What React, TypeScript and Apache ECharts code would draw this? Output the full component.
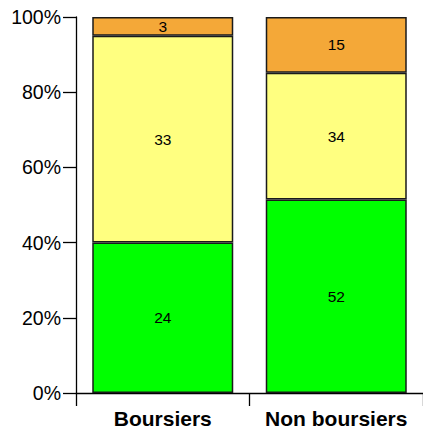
import React, { useEffect, useRef } from "react";
import * as echarts from "echarts";

const categories = ["Boursiers", "Non boursiers"];
const greenCounts = [24, 52];
const yellowCounts = [33, 34];
const orangeCounts = [3, 15];
const yTicks = [0, 20, 40, 60, 80, 100];

const FONT = "Liberation Sans, Arial, sans-serif";

export default function App() {
  const ref = useRef<HTMLDivElement>(null);
  useEffect(() => {
    const chart = echarts.init(ref.current!, null, { renderer: "svg" });
    const totals = categories.map((_, i) => greenCounts[i] + yellowCounts[i] + orangeCounts[i]);
    const pct = (arr: number[]) => arr.map((v, i) => ({ value: (v / totals[i]) * 100, count: v }));
    const mk = (name: string, arr: number[], color: string) => ({
      name,
      type: "bar",
      stack: "s",
      barWidth: 141,
      data: pct(arr),
      itemStyle: { color, borderColor: "#1a1a1a", borderWidth: 1.5 },
      label: {
        show: true,
        position: "inside",
        color: "#000",
        fontSize: 15.5,
        fontFamily: FONT,
        formatter: (p: any) => String(p.data.count),
      },
    });
    chart.setOption({
      animation: false,
      grid: { left: 76, top: 17, width: 351, height: 376, containLabel: false },
      xAxis: {
        type: "category",
        data: categories,
        axisLine: { lineStyle: { color: "#000", width: 1.3 } },
        axisTick: { show: true, length: 13, lineStyle: { color: "#000", width: 1.3 } },
        axisLabel: {
          interval: 0,
          hideOverlap: false,
          color: "#000",
          fontWeight: "bold",
          fontSize: 21,
          fontFamily: FONT,
          margin: 15,
        },
      },
      yAxis: {
        type: "value",
        min: yTicks[0],
        max: yTicks[yTicks.length - 1],
        interval: 20,
        splitLine: { show: false },
        axisLine: { show: true, lineStyle: { color: "#000", width: 1.3 } },
        axisTick: { show: true, length: 13, lineStyle: { color: "#000", width: 1.3 } },
        axisLabel: {
          color: "#000",
          fontSize: 19.5,
          fontFamily: FONT,
          margin: 15,
          formatter: "{value}%",
        },
      },
      series: [
        mk("green", greenCounts, "#00ff00"),
        mk("yellow", yellowCounts, "#ffff80"),
        mk("orange", orangeCounts, "#f4a838"),
      ],
    });
    return () => chart.dispose();
  }, []);
  return (
    <div
      ref={ref}
      style={{ position: "fixed", left: 0, top: 0, width: 423, height: 429, background: "#fff" }}
    />
  );
}
